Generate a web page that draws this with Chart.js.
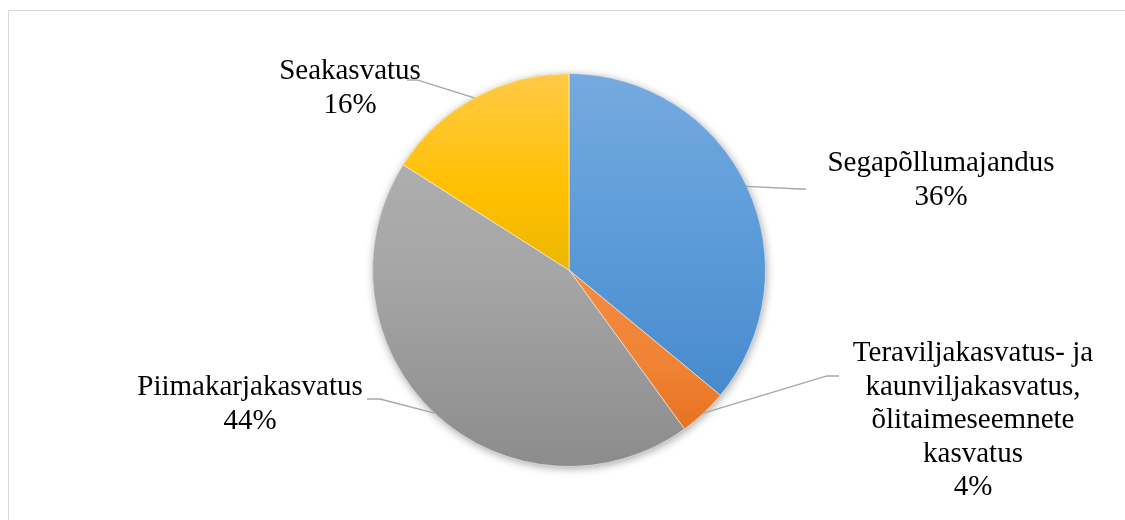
<!DOCTYPE html>
<html><head><meta charset="utf-8">
<script src="https://cdn.jsdelivr.net/npm/chart.js@4/dist/chart.umd.min.js"></script>
<style>html,body{margin:0;padding:0;background:#fff}#wrap{width:1125px;height:520px;position:relative}canvas{display:block}</style>
</head><body><div id="wrap"><canvas id="c" width="1125" height="520"></canvas></div>
<script>
// ---- data ----
const categories = ["Segapõllumajandus", "Teraviljakasvatus- ja kaunviljakasvatus, õlitaimeseemnete kasvatus", "Piimakarjakasvatus", "Seakasvatus"];
const labelLines = [["Segapõllumajandus"], ["Teraviljakasvatus- ja", "kaunviljakasvatus,", "õlitaimeseemnete", "kasvatus"], ["Piimakarjakasvatus"], ["Seakasvatus"]];
const shares = [36, 4, 44, 16];
const percentLabels = ["36%", "4%", "44%", "16%"];

// ---- styles / layout ----
const gradStops = [
  [[0, "#76aadf"], [0.5, "#5798d7"], [1, "#3f84c8"]],
  [[0, "#f9a066"], [0.75, "#f08233"], [1, "#e06814"]],
  [[0, "#b4b4b4"], [0.5, "#a6a6a6"], [1, "#8c8c8c"]],
  [[0, "#ffca48"], [0.3, "#ffc000"], [0.5, "#ecb600"], [1, "#d8a700"]]
];
const labelLayout = [
  {cx: 941, y: 171, elbow: [800, 189], stub: [806, 189]},
  {cx: 973, y: 361, elbow: [827, 376], stub: [839, 376]},
  {cx: 250, y: 395, elbow: [380, 399], stub: [367, 399]},
  {cx: 350, y: 79, elbow: [417, 80], stub: [407, 80]}
];
const lineH = 33.5;
const FONT = '29px "Liberation Serif", "Times New Roman", serif';

const gradCache = {};
function sliceColor(ctx) {
  const chart = ctx.chart, ca = chart.chartArea, i = ctx.dataIndex;
  if (!ca) return gradStops[i][1][1];
  const key = i + '_' + ca.top + '_' + ca.bottom;
  if (!gradCache[key]) {
    const g = chart.ctx.createLinearGradient(0, ca.top, 0, ca.bottom);
    gradStops[i].forEach(s => g.addColorStop(s[0], s[1]));
    gradCache[key] = g;
  }
  return gradCache[key];
}

const framePlugin = {
  id: 'frame',
  beforeDraw(chart) {
    const c = chart.ctx;
    c.save();
    c.fillStyle = '#fff';
    c.fillRect(0, 0, chart.width, chart.height);
    c.strokeStyle = '#d9d9d9';
    c.lineWidth = 1;
    c.strokeRect(8.5, 10.5, 1300, 700);
    c.restore();
  },
  beforeDatasetsDraw(chart) {
    const arc = chart.getDatasetMeta(0).data[0];
    if (!arc) return;
    const c = chart.ctx;
    c.save();
    c.shadowColor = 'rgba(0,0,0,0.35)';
    c.shadowBlur = 9;
    c.shadowOffsetX = 1;
    c.shadowOffsetY = 2;
    c.fillStyle = '#999';
    c.beginPath();
    c.arc(arc.x, arc.y, arc.outerRadius, 0, Math.PI * 2);
    c.fill();
    c.restore();
  },
  afterDatasetsDraw(chart) {
    const c = chart.ctx;
    const arcs = chart.getDatasetMeta(0).data;
    c.save();
    arcs.forEach((a, i) => {
      const L = labelLayout[i];
      const mid = (a.startAngle + a.endAngle) / 2;
      const px = a.x + Math.cos(mid) * a.outerRadius;
      const py = a.y + Math.sin(mid) * a.outerRadius;
      c.strokeStyle = '#a6a6a6';
      c.lineWidth = 1.3;
      c.beginPath();
      c.moveTo(px, py);
      c.lineTo(L.elbow[0], L.elbow[1]);
      c.lineTo(L.stub[0], L.stub[1]);
      c.stroke();
      c.fillStyle = '#000';
      c.font = FONT;
      c.textAlign = 'center';
      c.textBaseline = 'alphabetic';
      const lines = labelLines[i].concat([percentLabels[i]]);
      lines.forEach((t, k) => c.fillText(t, L.cx, L.y + k * lineH));
    });
    c.restore();
  }
};

new Chart(document.getElementById('c'), {
  type: 'pie',
  data: {
    labels: categories,
    datasets: [{
      data: shares,
      backgroundColor: sliceColor,
      borderColor: 'rgba(255,255,255,0.55)',
      borderWidth: 1
    }]
  },
  options: {
    responsive: false,
    devicePixelRatio: 1,
    animation: false,
    layout: {padding: {left: 372, right: 359, top: 73, bottom: 53}},
    plugins: {legend: {display: false}, tooltip: {enabled: false}}
  },
  plugins: [framePlugin]
});
</script>
</body></html>
